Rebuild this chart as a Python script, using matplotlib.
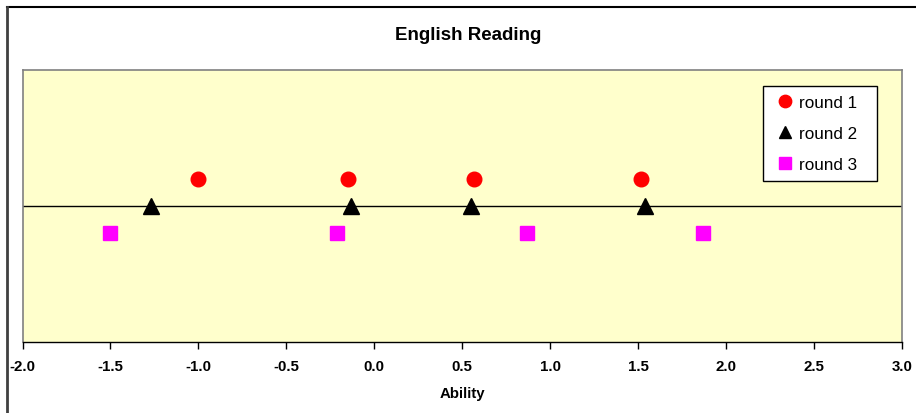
import matplotlib
matplotlib.use("Agg")
import matplotlib.pyplot as plt
from matplotlib.lines import Line2D

plt.rcParams['font.family'] = ['Liberation Sans', 'DejaVu Sans']

# Ability estimates per round (y only separates the rounds)
round1_x = [-1.00, -0.15, 0.57, 1.52]
round1_y = [0.2, 0.2, 0.2, 0.2]
round2_x = [-1.27, -0.13, 0.55, 1.54]
round2_y = [0.0, 0.0, 0.0, 0.0]
round3_x = [-1.50, -0.21, 0.87, 1.87]
round3_y = [-0.2, -0.2, -0.2, -0.2]
xticks = [-2.0, -1.5, -1.0, -0.5, 0.0, 0.5, 1.0, 1.5, 2.0, 2.5, 3.0]

W, H = 916, 414
fig = plt.figure(figsize=(W / 100, H / 100), dpi=100)
fig.patch.set_facecolor('white')

# plot area in pixels: left 22.5, right 901.7, top 71, bottom 343.3
ax = fig.add_axes([22.5 / W, 1 - 343.3 / H, (901.7 - 22.5) / W, (343.3 - 71) / H])
ax.set_facecolor('#FFFFCC')
ax.set_xlim(-2, 3)
ax.set_ylim(-1, 1)

ax.axhline(0, color='black', lw=1, zorder=1)

ax.plot(round1_x, round1_y, 'o', color='#FF0000', ms=10.5, mec='#FF0000', ls='none',
        label='round 1', zorder=3)
ax.plot(round2_x, round2_y, '^', color='black', ms=11, ls='none', label='round 2', zorder=3)
ax.plot(round3_x, round3_y, 's', color='#FF00FF', ms=10, mec='#FF00FF', ls='none',
        label='round 3', zorder=3)

for s in ['left', 'top', 'right']:
    ax.spines[s].set_color('#808080')
    ax.spines[s].set_linewidth(1.2)
ax.spines['bottom'].set_color('black')
ax.spines['bottom'].set_linewidth(1)

ax.set_yticks([])
ax.set_xticks(xticks)
ax.set_xticklabels(['%.1f' % v for v in xticks], fontsize=10.8, fontweight='bold')
ax.tick_params(axis='x', direction='out', length=5, width=1, pad=7, colors='black')
ax.set_xlabel('Ability', fontsize=10.8, fontweight='bold', labelpad=9.5)

fig.text(468 / W, 1 - 35 / H, 'English Reading', fontsize=13.5, fontweight='bold',
         ha='center', va='center')

# legend box: x 762.7..876.7 px, top at 86.7 px
leg = ax.legend(loc='upper left',
                bbox_to_anchor=(762.7 / W, 1 - 86.7 / H, (876.7 - 762.7) / W, 0),
                bbox_transform=fig.transFigure, mode='expand', borderaxespad=0,
                fancybox=False, edgecolor='black', framealpha=1, fontsize=12.3,
                handletextpad=0.05, handlelength=1.5, labelspacing=0.92,
                borderpad=0.55, markerscale=0.85)
leg.get_frame().set_linewidth(1)

# outer chart border (top and left edges)
fig.add_artist(Line2D([6.5 / W, 1], [1 - 8 / H, 1 - 8 / H], color='black', lw=1.5,
                      transform=fig.transFigure))
fig.add_artist(Line2D([6.5 / W, 6.5 / W], [0, 1 - 8 / H], color='#404040', lw=2,
                      transform=fig.transFigure))

fig.savefig('out.png', dpi=100)
